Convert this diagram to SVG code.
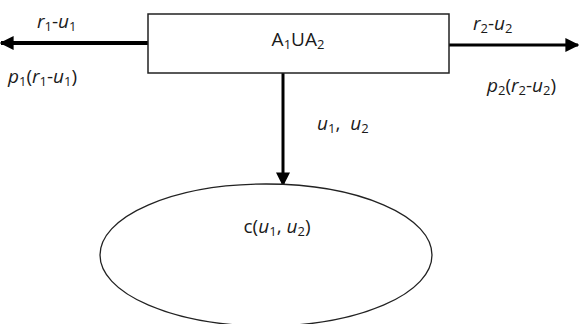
<svg xmlns="http://www.w3.org/2000/svg" width="579" height="324" viewBox="0 0 579 324">
  <style>
    text { font-family: "Open Sans", "Liberation Sans", sans-serif; font-size: 19px; fill: #1a1a1a; }
    .v { font-style: italic; }
    .s { font-size: 13px; }
    .box { fill: #fff; stroke: #222; stroke-width: 1.5; }
    .edge { stroke: #000; fill: none; }
  </style>
  <defs>
    <marker id="arrow" viewBox="0 0 10 10" refX="9" refY="5" markerWidth="14" markerHeight="15" orient="auto" markerUnits="userSpaceOnUse">
      <path d="M0,0 L10,5 L0,10 z" fill="#000"/>
    </marker>
  </defs>
  <rect width="579" height="324" fill="#fff"/>

  <g id="connectors">
    <line class="edge" x1="148" y1="43" x2="1" y2="43" stroke-width="4" marker-end="url(#arrow)"/>
    <line class="edge" x1="449" y1="45" x2="578" y2="45" stroke-width="3" marker-end="url(#arrow)"/>
    <line class="edge" x1="283" y1="73" x2="283" y2="185" stroke-width="3" marker-end="url(#arrow)"/>
  </g>

  <g id="union">
    <rect class="box" x="148" y="14" width="301" height="59"/>
    <text x="298" y="46" text-anchor="middle">A<tspan class="s" dy="3">1</tspan><tspan dy="-3">UA</tspan><tspan class="s" dy="3">2</tspan></text>
  </g>

  <g id="cost">
    <ellipse cx="266" cy="255" rx="166" ry="71" fill="#fff" stroke="#222" stroke-width="1.3"/>
    <text x="277" y="233" text-anchor="middle">c(<tspan class="v">u</tspan><tspan class="s" dy="3">1</tspan><tspan dy="-3">, </tspan><tspan class="v">u</tspan><tspan class="s" dy="3">2</tspan><tspan dy="-3">)</tspan></text>
  </g>

  <g id="labels">
    <text x="37" y="28"><tspan class="v">r</tspan><tspan class="s" dy="3">1</tspan><tspan dy="-3">-</tspan><tspan class="v">u</tspan><tspan class="s" dy="3">1</tspan></text>
    <text x="8" y="83"><tspan class="v">p</tspan><tspan class="s" dy="3">1</tspan><tspan dy="-3">(</tspan><tspan class="v">r</tspan><tspan class="s" dy="3">1</tspan><tspan dy="-3">-</tspan><tspan class="v">u</tspan><tspan class="s" dy="3">1</tspan><tspan dy="-3">)</tspan></text>
    <text x="473" y="30"><tspan class="v">r</tspan><tspan class="s" dy="3">2</tspan><tspan dy="-3">-</tspan><tspan class="v">u</tspan><tspan class="s" dy="3">2</tspan></text>
    <text x="487" y="92"><tspan class="v">p</tspan><tspan class="s" dy="3">2</tspan><tspan dy="-3">(</tspan><tspan class="v">r</tspan><tspan class="s" dy="3">2</tspan><tspan dy="-3">-</tspan><tspan class="v">u</tspan><tspan class="s" dy="3">2</tspan><tspan dy="-3">)</tspan></text>
    <text x="317" y="130" xml:space="preserve"><tspan class="v">u</tspan><tspan class="s" dy="3">1</tspan><tspan dy="-3">,  </tspan><tspan class="v">u</tspan><tspan class="s" dy="3">2</tspan></text>
  </g>
</svg>
